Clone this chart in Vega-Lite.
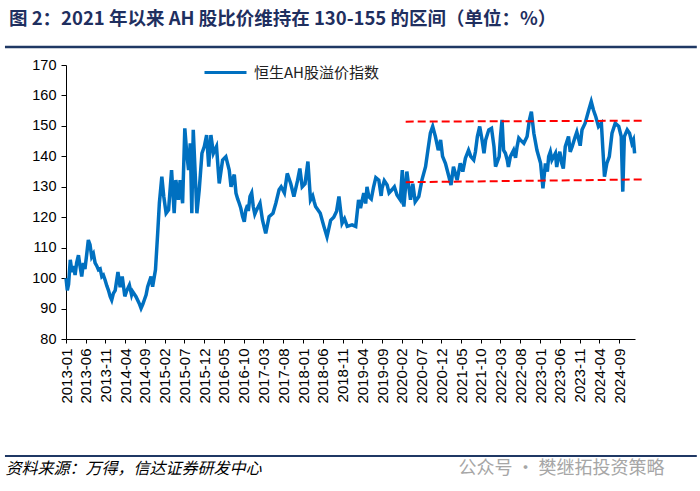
{
  "$schema": "https://vega.github.io/schema/vega-lite/v6.json",
  "width": 569,
  "height": 274,
  "autosize": {"type": "none"},
  "padding": {"left": 66, "top": 65, "right": 65, "bottom": 152},
  "background": "white",
  "title": {
    "text": "图 2：2021 年以来 AH 股比价维持在 130-155 的区间（单位：%）",
    "anchor": "start",
    "frame": "group",
    "dx": -57,
    "offset": 17,
    "font": "Noto Sans CJK SC",
    "fontSize": 18.5,
    "fontWeight": "bold",
    "color": "#1f2f5f"
  },
  "config": {
    "view": {"stroke": null},
    "axis": {"grid": false, "domainColor": "#000", "tickColor": "#000", "labelColor": "#000", "labelFont": "Liberation Sans"},
    "axisX": {
      "format": "%Y-%m", "labelAngle": -90, "labelFontSize": 15, "labelPadding": 5, "tickSize": 4,
      "labelOverlap": false, "labelBound": false, "labelFlush": false,
      "titleX": -61, "titleY": 129, "titleAlign": "left", "titleBaseline": "middle",
      "titleFont": "Noto Sans CJK SC", "titleFontSize": 16, "titleFontStyle": "italic", "titleFontWeight": "normal", "titleColor": "#000"
    },
    "axisY": {
      "labelFontSize": 14.5, "labelPadding": 5, "tickSize": 5,
      "titleAngle": 0, "titleX": 392, "titleY": 403, "titleAlign": "left", "titleBaseline": "middle",
      "titleFont": "Noto Sans CJK SC", "titleFontSize": 18, "titleFontWeight": "normal", "titleColor": "#a6a6a6"
    }
  },
  "datasets": {
    "ah": [
      {"d": "2013-01-01", "v": 100}, {"d": "2013-01-11", "v": 96}, {"d": "2013-01-21", "v": 98}, {"d": "2013-02-03", "v": 106},
      {"d": "2013-02-16", "v": 102}, {"d": "2013-02-28", "v": 104}, {"d": "2013-03-12", "v": 101}, {"d": "2013-03-24", "v": 105},
      {"d": "2013-04-07", "v": 107.5}, {"d": "2013-04-19", "v": 104}, {"d": "2013-05-02", "v": 100.5}, {"d": "2013-05-15", "v": 105},
      {"d": "2013-05-27", "v": 103}, {"d": "2013-06-10", "v": 108}, {"d": "2013-06-22", "v": 112.5}, {"d": "2013-07-05", "v": 111},
      {"d": "2013-07-18", "v": 107}, {"d": "2013-07-31", "v": 108}, {"d": "2013-08-13", "v": 105}, {"d": "2013-08-26", "v": 104},
      {"d": "2013-09-08", "v": 102.7}, {"d": "2013-09-21", "v": 103}, {"d": "2013-10-04", "v": 100.5}, {"d": "2013-10-16", "v": 101},
      {"d": "2013-10-29", "v": 99.4}, {"d": "2013-11-11", "v": 97.5}, {"d": "2013-11-24", "v": 96}, {"d": "2013-12-07", "v": 94},
      {"d": "2013-12-19", "v": 92.8}, {"d": "2014-01-01", "v": 95}, {"d": "2014-01-15", "v": 96}, {"d": "2014-02-05", "v": 102},
      {"d": "2014-02-22", "v": 97}, {"d": "2014-03-10", "v": 100.5}, {"d": "2014-03-30", "v": 94}, {"d": "2014-04-15", "v": 96},
      {"d": "2014-05-04", "v": 97.7}, {"d": "2014-05-21", "v": 94.5}, {"d": "2014-05-29", "v": 95.6}, {"d": "2014-06-24", "v": 93.9},
      {"d": "2014-07-19", "v": 91.7}, {"d": "2014-08-02", "v": 90.1}, {"d": "2014-08-16", "v": 91.5}, {"d": "2014-08-27", "v": 92.8},
      {"d": "2014-09-10", "v": 94.5}, {"d": "2014-09-22", "v": 97.2}, {"d": "2014-10-18", "v": 100.5}, {"d": "2014-10-30", "v": 97.2},
      {"d": "2014-11-21", "v": 102.7}, {"d": "2014-12-08", "v": 114.7}, {"d": "2014-12-21", "v": 124.6}, {"d": "2015-01-09", "v": 133.3},
      {"d": "2015-01-24", "v": 126.8}, {"d": "2015-02-11", "v": 121.3}, {"d": "2015-03-02", "v": 122.4}, {"d": "2015-03-25", "v": 135.5},
      {"d": "2015-04-14", "v": 121.3}, {"d": "2015-04-27", "v": 132.2}, {"d": "2015-05-17", "v": 125.7}, {"d": "2015-05-30", "v": 132.2},
      {"d": "2015-06-18", "v": 124.6}, {"d": "2015-07-05", "v": 149.2}, {"d": "2015-07-20", "v": 141}, {"d": "2015-08-03", "v": 135.5},
      {"d": "2015-08-16", "v": 144.3}, {"d": "2015-08-28", "v": 121.3}, {"d": "2015-09-08", "v": 148.7}, {"d": "2015-09-24", "v": 133.3},
      {"d": "2015-10-06", "v": 121.3}, {"d": "2015-10-24", "v": 129}, {"d": "2015-11-14", "v": 141}, {"d": "2015-12-02", "v": 143.2},
      {"d": "2015-12-20", "v": 147}, {"d": "2016-01-05", "v": 136.6}, {"d": "2016-01-22", "v": 147}, {"d": "2016-02-10", "v": 141},
      {"d": "2016-03-05", "v": 143.2}, {"d": "2016-03-26", "v": 131.1}, {"d": "2016-04-21", "v": 138.8}, {"d": "2016-05-16", "v": 139.9},
      {"d": "2016-06-11", "v": 135.5}, {"d": "2016-06-25", "v": 130}, {"d": "2016-07-06", "v": 132.2}, {"d": "2016-07-20", "v": 134},
      {"d": "2016-08-02", "v": 127.9}, {"d": "2016-08-15", "v": 126}, {"d": "2016-08-27", "v": 124.6}, {"d": "2016-09-08", "v": 123},
      {"d": "2016-09-22", "v": 120.2}, {"d": "2016-10-05", "v": 118.5}, {"d": "2016-10-17", "v": 122.4}, {"d": "2016-10-30", "v": 124},
      {"d": "2016-11-05", "v": 122}, {"d": "2016-11-18", "v": 126.8}, {"d": "2016-12-01", "v": 128}, {"d": "2016-12-13", "v": 123.5},
      {"d": "2016-12-25", "v": 121}, {"d": "2017-01-08", "v": 122.4}, {"d": "2017-02-03", "v": 124.6}, {"d": "2017-02-22", "v": 119.1},
      {"d": "2017-03-19", "v": 114.7}, {"d": "2017-04-14", "v": 120.2}, {"d": "2017-05-14", "v": 121.3}, {"d": "2017-06-05", "v": 124.6},
      {"d": "2017-06-30", "v": 129}, {"d": "2017-07-16", "v": 130}, {"d": "2017-08-10", "v": 128}, {"d": "2017-09-01", "v": 134.4},
      {"d": "2017-09-28", "v": 131}, {"d": "2017-10-22", "v": 126.8}, {"d": "2017-11-19", "v": 132}, {"d": "2017-12-07", "v": 136},
      {"d": "2017-12-25", "v": 130}, {"d": "2018-01-16", "v": 131}, {"d": "2018-02-07", "v": 138.3}, {"d": "2018-02-27", "v": 125.7},
      {"d": "2018-03-16", "v": 127}, {"d": "2018-03-28", "v": 125}, {"d": "2018-04-07", "v": 123.5}, {"d": "2018-05-13", "v": 121.3},
      {"d": "2018-06-10", "v": 117}, {"d": "2018-07-04", "v": 113.6}, {"d": "2018-08-01", "v": 119}, {"d": "2018-08-25", "v": 120},
      {"d": "2018-09-16", "v": 122}, {"d": "2018-10-04", "v": 126.8}, {"d": "2018-10-28", "v": 118}, {"d": "2018-11-16", "v": 119.5},
      {"d": "2018-12-07", "v": 117}, {"d": "2019-01-13", "v": 117.5}, {"d": "2019-02-10", "v": 117}, {"d": "2019-03-04", "v": 125.7},
      {"d": "2019-03-19", "v": 123}, {"d": "2019-04-13", "v": 127.9}, {"d": "2019-04-28", "v": 124.5}, {"d": "2019-05-08", "v": 130},
      {"d": "2019-05-22", "v": 126.8}, {"d": "2019-06-10", "v": 126}, {"d": "2019-06-28", "v": 130}, {"d": "2019-07-15", "v": 133},
      {"d": "2019-08-07", "v": 132.2}, {"d": "2019-08-25", "v": 127}, {"d": "2019-09-01", "v": 129.5}, {"d": "2019-09-18", "v": 132},
      {"d": "2019-10-10", "v": 130.6}, {"d": "2019-10-25", "v": 128}, {"d": "2019-11-16", "v": 129}, {"d": "2019-12-05", "v": 130},
      {"d": "2019-12-25", "v": 127.3}, {"d": "2020-01-19", "v": 125.7}, {"d": "2020-02-04", "v": 135.5}, {"d": "2020-02-16", "v": 123.5},
      {"d": "2020-03-10", "v": 135}, {"d": "2020-04-07", "v": 125.7}, {"d": "2020-04-25", "v": 131}, {"d": "2020-05-13", "v": 125.1},
      {"d": "2020-06-10", "v": 126.8}, {"d": "2020-07-04", "v": 132.2}, {"d": "2020-08-01", "v": 136.6}, {"d": "2020-08-19", "v": 142},
      {"d": "2020-09-07", "v": 147.6}, {"d": "2020-09-25", "v": 149.8}, {"d": "2020-10-16", "v": 146.5}, {"d": "2020-11-07", "v": 142},
      {"d": "2020-11-25", "v": 145.4}, {"d": "2020-12-10", "v": 140}, {"d": "2021-01-01", "v": 137.7}, {"d": "2021-01-28", "v": 133.3},
      {"d": "2021-02-13", "v": 130.6}, {"d": "2021-03-04", "v": 136.6}, {"d": "2021-04-01", "v": 132.2}, {"d": "2021-04-25", "v": 137.7},
      {"d": "2021-05-15", "v": 135}, {"d": "2021-06-04", "v": 139.4}, {"d": "2021-06-28", "v": 142}, {"d": "2021-07-16", "v": 139.9},
      {"d": "2021-08-07", "v": 138.8}, {"d": "2021-08-20", "v": 141.5}, {"d": "2021-09-04", "v": 146.5}, {"d": "2021-09-22", "v": 149.8},
      {"d": "2021-10-10", "v": 145.4}, {"d": "2021-10-25", "v": 141}, {"d": "2021-11-07", "v": 145.4}, {"d": "2021-12-01", "v": 148.7},
      {"d": "2021-12-22", "v": 149.2}, {"d": "2022-01-10", "v": 143.2}, {"d": "2022-01-22", "v": 136.6}, {"d": "2022-02-19", "v": 139.9},
      {"d": "2022-03-01", "v": 146.5}, {"d": "2022-03-13", "v": 152}, {"d": "2022-03-25", "v": 142}, {"d": "2022-04-08", "v": 141},
      {"d": "2022-04-22", "v": 138.8}, {"d": "2022-05-01", "v": 136.5}, {"d": "2022-05-16", "v": 139.9}, {"d": "2022-06-10", "v": 142},
      {"d": "2022-06-25", "v": 139.5}, {"d": "2022-07-07", "v": 143.2}, {"d": "2022-07-20", "v": 146}, {"d": "2022-08-01", "v": 145.4},
      {"d": "2022-08-28", "v": 144.3}, {"d": "2022-09-22", "v": 146.5}, {"d": "2022-10-10", "v": 152}, {"d": "2022-10-25", "v": 154.7},
      {"d": "2022-11-13", "v": 147.6}, {"d": "2022-12-07", "v": 142}, {"d": "2023-01-04", "v": 137.7}, {"d": "2023-01-22", "v": 129.5},
      {"d": "2023-02-10", "v": 137.7}, {"d": "2023-02-25", "v": 135}, {"d": "2023-03-07", "v": 139.9}, {"d": "2023-03-20", "v": 141.5},
      {"d": "2023-04-01", "v": 138.8}, {"d": "2023-04-28", "v": 141}, {"d": "2023-05-08", "v": 136.5}, {"d": "2023-05-22", "v": 139.9},
      {"d": "2023-06-01", "v": 141.5}, {"d": "2023-06-16", "v": 137.7}, {"d": "2023-06-28", "v": 136}, {"d": "2023-07-13", "v": 143.2},
      {"d": "2023-08-07", "v": 146.5}, {"d": "2023-08-20", "v": 141.5}, {"d": "2023-09-04", "v": 143.2}, {"d": "2023-09-28", "v": 146.5},
      {"d": "2023-10-10", "v": 148}, {"d": "2023-10-25", "v": 145.4}, {"d": "2023-11-05", "v": 143.5}, {"d": "2023-11-19", "v": 148.7},
      {"d": "2023-12-13", "v": 150.9}, {"d": "2024-01-10", "v": 155.2}, {"d": "2024-01-29", "v": 158}, {"d": "2024-02-15", "v": 155.2},
      {"d": "2024-03-04", "v": 153}, {"d": "2024-03-25", "v": 149.8}, {"d": "2024-04-16", "v": 150.9}, {"d": "2024-04-28", "v": 142},
      {"d": "2024-05-10", "v": 133.3}, {"d": "2024-05-28", "v": 137.7}, {"d": "2024-06-16", "v": 139.9}, {"d": "2024-07-07", "v": 147.6},
      {"d": "2024-08-01", "v": 150.9}, {"d": "2024-08-28", "v": 149.8}, {"d": "2024-09-16", "v": 146.5}, {"d": "2024-09-28", "v": 128.4},
      {"d": "2024-10-10", "v": 146.5}, {"d": "2024-11-01", "v": 148.7}, {"d": "2024-11-19", "v": 147.6}, {"d": "2024-12-07", "v": 144.3},
      {"d": "2024-12-19", "v": 145.4}, {"d": "2024-12-28", "v": 141}
    ],
    "band": [
      {"s": "上轨", "d": "2020-03-01", "v": 151.4}, {"s": "上轨", "d": "2025-03-01", "v": 151.7},
      {"s": "下轨", "d": "2020-03-01", "v": 131.5}, {"s": "下轨", "d": "2025-03-01", "v": 132.4}
    ],
    "frame": [{"part": "分隔线"}]
  },
  "layer": [
    {
      "data": {"name": "ah"},
      "mark": {"type": "line", "strokeWidth": 3.5, "clip": false},
      "encoding": {
        "x": {
          "field": "d", "type": "temporal",
          "scale": {"type": "utc", "nice": false, "domain": [1356998400000, 1735603200000]},
          "axis": {
            "values": [1356998400000, 1370044800000, 1383264000000, 1396310400000, 1409529600000, 1422748800000, 1435708800000, 1448928000000, 1462060800000, 1475280000000, 1488326400000, 1501545600000, 1514764800000, 1527811200000, 1541030400000, 1554076800000, 1567296000000, 1580515200000, 1593561600000, 1606780800000, 1619827200000, 1633046400000, 1646092800000, 1659312000000, 1672531200000, 1685577600000, 1698796800000, 1711929600000, 1725148800000],
            "title": "资料来源：万得，信达证券研发中心"
          }
        },
        "y": {
          "field": "v", "type": "quantitative",
          "scale": {"domain": [80, 170], "nice": false, "zero": false},
          "axis": {"values": [80, 90, 100, 110, 120, 130, 140, 150, 160, 170], "title": "公众号 · 樊继拓投资策略"}
        },
        "color": {
          "datum": "恒生AH股溢价指数",
          "scale": {"range": ["#0070c0"]},
          "legend": {
            "title": null, "orient": "none", "legendX": 137, "legendY": -15, "padding": 0,
            "symbolType": "stroke", "symbolSize": 1764, "symbolStrokeWidth": 3, "labelOffset": 6,
            "labelFont": "Noto Sans CJK SC", "labelFontSize": 15, "labelColor": "#222"
          }
        }
      }
    },
    {
      "data": {"name": "band"},
      "mark": {"type": "line", "color": "#ff0000", "strokeWidth": 2, "strokeDash": [8, 4], "clip": false},
      "encoding": {
        "x": {
          "field": "d", "type": "temporal",
          "scale": {"type": "utc", "nice": false, "domain": [1356998400000, 1735603200000]},
          "axis": {
            "values": [1356998400000, 1370044800000, 1383264000000, 1396310400000, 1409529600000, 1422748800000, 1435708800000, 1448928000000, 1462060800000, 1475280000000, 1488326400000, 1501545600000, 1514764800000, 1527811200000, 1541030400000, 1554076800000, 1567296000000, 1580515200000, 1593561600000, 1606780800000, 1619827200000, 1633046400000, 1646092800000, 1659312000000, 1672531200000, 1685577600000, 1698796800000, 1711929600000, 1725148800000],
            "title": "资料来源：万得，信达证券研发中心"
          }
        },
        "y": {
          "field": "v", "type": "quantitative",
          "scale": {"domain": [80, 170], "nice": false, "zero": false},
          "axis": {"values": [80, 90, 100, 110, 120, 130, 140, 150, 160, 170], "title": "公众号 · 樊继拓投资策略"}
        },
        "detail": {"field": "s"}
      }
    },
    {
      "data": {"name": "frame"},
      "mark": {"type": "rule", "color": "#1f3864", "strokeWidth": 2.5, "clip": false},
      "encoding": {
        "y": {
          "datum": 175.9, "type": "quantitative",
          "scale": {"domain": [80, 170], "nice": false, "zero": false},
          "axis": {"values": [80, 90, 100, 110, 120, 130, 140, 150, 160, 170], "title": "公众号 · 樊继拓投资策略"}
        },
        "x": {
          "datum": 1316390400000, "type": "temporal",
          "scale": {"type": "utc", "nice": false, "domain": [1356998400000, 1735603200000]},
          "axis": {
            "values": [1356998400000, 1370044800000, 1383264000000, 1396310400000, 1409529600000, 1422748800000, 1435708800000, 1448928000000, 1462060800000, 1475280000000, 1488326400000, 1501545600000, 1514764800000, 1527811200000, 1541030400000, 1554076800000, 1567296000000, 1580515200000, 1593561600000, 1606780800000, 1619827200000, 1633046400000, 1646092800000, 1659312000000, 1672531200000, 1685577600000, 1698796800000, 1711929600000, 1725148800000],
            "title": "资料来源：万得，信达证券研发中心"
          }
        },
        "x2": {"datum": 1776729600000}
      }
    },
    {
      "data": {"name": "frame"},
      "mark": {"type": "rule", "color": "#1f3864", "strokeWidth": 2, "clip": false},
      "encoding": {
        "y": {
          "datum": 41.6, "type": "quantitative",
          "scale": {"domain": [80, 170], "nice": false, "zero": false},
          "axis": {"values": [80, 90, 100, 110, 120, 130, 140, 150, 160, 170], "title": "公众号 · 樊继拓投资策略"}
        },
        "x": {
          "datum": 1316390400000, "type": "temporal",
          "scale": {"type": "utc", "nice": false, "domain": [1356998400000, 1735603200000]},
          "axis": {
            "values": [1356998400000, 1370044800000, 1383264000000, 1396310400000, 1409529600000, 1422748800000, 1435708800000, 1448928000000, 1462060800000, 1475280000000, 1488326400000, 1501545600000, 1514764800000, 1527811200000, 1541030400000, 1554076800000, 1567296000000, 1580515200000, 1593561600000, 1606780800000, 1619827200000, 1633046400000, 1646092800000, 1659312000000, 1672531200000, 1685577600000, 1698796800000, 1711929600000, 1725148800000],
            "title": "资料来源：万得，信达证券研发中心"
          }
        },
        "x2": {"datum": 1776729600000}
      }
    }
  ]
}
